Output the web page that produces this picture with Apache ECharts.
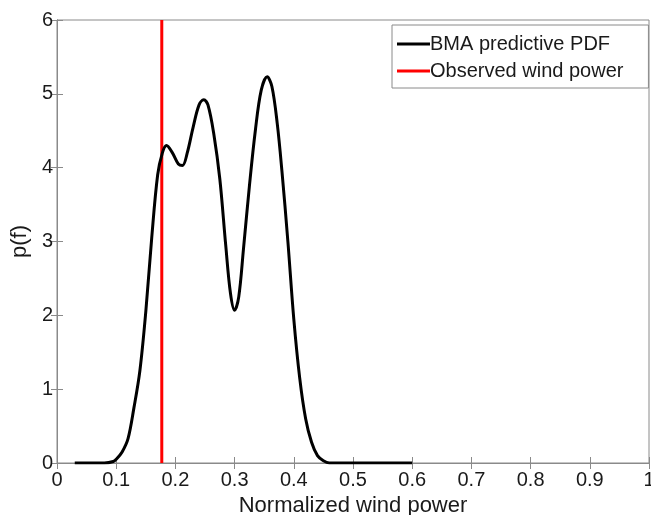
<!DOCTYPE html>
<html>
<head>
<meta charset="utf-8">
<script src="https://cdn.jsdelivr.net/npm/echarts@6/dist/echarts.min.js"></script>
<style>
html,body{margin:0;padding:0;background:#fff;overflow:hidden;}
#chart{width:651px;height:515px;}
</style>
</head>
<body>
<div id="chart"></div>
<script>
// Data
var pdfX = [0.03, 0.08, 0.095, 0.10, 0.11, 0.12, 0.13, 0.14, 0.15, 0.16, 0.17, 0.178, 0.185, 0.195, 0.205, 0.212, 0.22, 0.23, 0.24, 0.248, 0.255, 0.265, 0.275, 0.285, 0.293, 0.30, 0.307, 0.315, 0.325, 0.335, 0.345, 0.355, 0.363, 0.372, 0.38, 0.39, 0.40, 0.41, 0.42, 0.43, 0.44, 0.45, 0.46, 0.6];
var pdfY = [0, 0, 0.02, 0.05, 0.15, 0.33, 0.75, 1.25, 2.05, 3.05, 3.9, 4.2, 4.30, 4.2, 4.05, 4.03, 4.2, 4.55, 4.85, 4.92, 4.85, 4.45, 3.85, 2.95, 2.3, 2.07, 2.25, 2.9, 3.75, 4.5, 5.05, 5.23, 5.1, 4.6, 3.95, 3.0, 1.95, 1.15, 0.6, 0.28, 0.10, 0.03, 0.0, 0];
var observedX = [0.177, 0.177];
var observedY = [0, 6];
var seriesNames = ['BMA predictive PDF', 'Observed wind power'];
var xTickLabels = ['0', '0.1', '0.2', '0.3', '0.4', '0.5', '0.6', '0.7', '0.8', '0.9', '1'];
var yTickLabels = ['0', '1', '2', '3', '4', '5', '6'];

var pdfData = pdfX.map(function (x, i) { return [x, pdfY[i]]; });
var obsData = observedX.map(function (x, i) { return [x, observedY[i]]; });

var axisGrey = '#8a8a8a';
var labelColor = '#1a1a1a';
var font = 'Liberation Sans, Arial, Helvetica, sans-serif';

var chart = echarts.init(document.getElementById('chart'), null, {renderer: 'canvas'});
chart.setOption({
  animation: false,
  backgroundColor: '#fff',
  grid: {left: 57, right: 2, top: 20, bottom: 52, containLabel: false, outerBoundsMode: 'none',
    show: true, borderColor: axisGrey, borderWidth: 1, backgroundColor: 'transparent'},
  legend: {
    orient: 'vertical',
    left: 392,
    top: 25,
    itemWidth: 33,
    itemHeight: 3,
    itemGap: 7,
    padding: [9, 25, 7, 5],
    borderColor: axisGrey,
    borderWidth: 1,
    borderRadius: 0,
    backgroundColor: '#fff',
    textStyle: {fontFamily: font, fontSize: 20, color: labelColor, padding: [0, 0, 0, -5]},
    data: [
      {name: seriesNames[0], icon: 'rect'},
      {name: seriesNames[1], icon: 'rect'}
    ]
  },
  xAxis: [{
    type: 'value', min: 0, max: 1, interval: 0.1,
    name: 'Normalized wind power', nameLocation: 'middle', nameGap: 28,
    nameTextStyle: {fontFamily: font, fontSize: 22, color: labelColor},
    axisLine: {show: true, lineStyle: {color: axisGrey, width: 1}},
    axisTick: {show: true, inside: true, length: 6, lineStyle: {color: axisGrey}},
    axisLabel: {fontFamily: font, fontSize: 20, color: labelColor, margin: 7,
      formatter: function (v) { return xTickLabels[Math.round(v * 10)]; }},
    splitLine: {show: false}
  }, {
    type: 'value', min: 0, max: 1, interval: 0.1, position: 'top',
    axisLine: {show: true, lineStyle: {color: axisGrey, width: 1}},
    axisTick: {show: true, inside: true, length: 6, lineStyle: {color: axisGrey}},
    axisLabel: {show: false}, splitLine: {show: false}
  }],
  yAxis: [{
    type: 'value', min: 0, max: 6, interval: 1,
    name: 'p(f)', nameLocation: 'middle', nameGap: 21, nameRotate: 90,
    nameTextStyle: {fontFamily: font, fontSize: 22, color: labelColor},
    axisLine: {show: true, lineStyle: {color: axisGrey, width: 1}},
    axisTick: {show: true, inside: true, length: 6, lineStyle: {color: axisGrey}},
    axisLabel: {fontFamily: font, fontSize: 20, color: labelColor, margin: 4,
      formatter: function (v) { return yTickLabels[Math.round(v)]; }},
    splitLine: {show: false}
  }, {
    type: 'value', min: 0, max: 6, interval: 1, position: 'right',
    axisLine: {show: true, lineStyle: {color: axisGrey, width: 1}},
    axisTick: {show: true, inside: true, length: 6, lineStyle: {color: axisGrey}},
    axisLabel: {show: false}, splitLine: {show: false}
  }],
  series: [{
    name: seriesNames[0],
    type: 'line',
    data: pdfData,
    smooth: 0.35,
    showSymbol: false,
    symbol: 'none',
    lineStyle: {color: '#000', width: 3},
    itemStyle: {color: '#000'},
    z: 3
  }, {
    name: seriesNames[1],
    type: 'line',
    data: obsData,
    showSymbol: false,
    symbol: 'none',
    lineStyle: {color: '#ff0000', width: 3},
    itemStyle: {color: '#ff0000'},
    z: 2
  }]
});
</script>
</body>
</html>
